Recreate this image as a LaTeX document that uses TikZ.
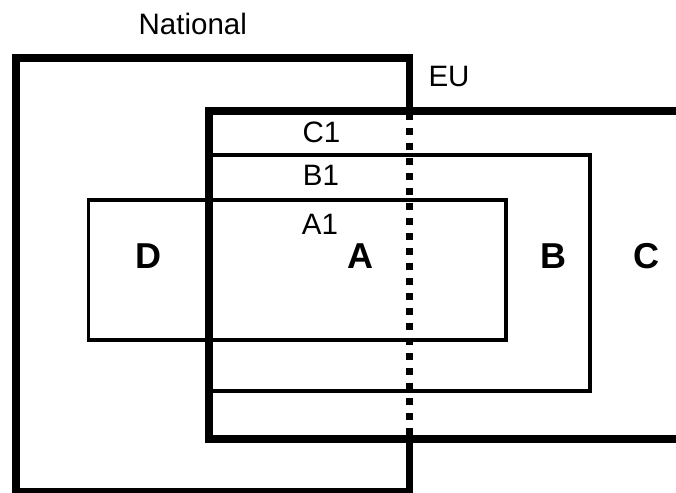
\documentclass[tikz,border=0pt]{standalone}
\usepackage{fontspec}
\setmainfont{Liberation Sans}
\begin{document}
\begin{tikzpicture}[x=1pt,y=-1pt,
  thickline/.style={line width=7.7pt,line join=miter,line cap=butt},
  thinline/.style={line width=3.6pt,line join=miter},
  dotline/.style={line width=7.7pt,line cap=butt,dash pattern=on 7pt off 8pt,dash phase=13pt},
  lbl/.style={inner sep=0pt,anchor=base,font=\fontsize{29.5}{30}\selectfont},
  big/.style={inner sep=0pt,anchor=base,font=\fontsize{36}{38}\selectfont\bfseries}]
\useasboundingbox (0,0) rectangle (676,492);
\clip (0,0) rectangle (676,492);
% B and A boxes
\draw[thinline] (208.8,155) rectangle (590,391);
\draw[thinline] (88.5,200) rectangle (506,340);
% C (EU) box, open on the right
\draw[thickline] (690,111.2) -- (208.8,111.2) -- (208.8,439.3) -- (690,439.3);
% National box
\draw[thickline] (409.5,111.2) -- (409.5,58.2) -- (16.2,58.2) -- (16.2,492) -- (409.5,492) -- (409.5,439.3);
% dotted border
\draw[dotline] (409.5,111.2) -- (409.5,439.3);
% labels
\node[lbl] (national) at (192.8,34.3) {National};
\node[lbl] (eu) at (449,86.7) {EU};
\node[lbl] (c1) at (321.5,142) {C1};
\node[lbl] (b1) at (321,185.7) {B1};
\node[lbl] (a1) at (320,234) {A1};
\node[big] (d) at (148,268.5) {D};
\node[big] (a) at (360,268.5) {A};
\node[big] (b) at (553,268.5) {B};
\node[big] (c) at (646,268.5) {C};
\end{tikzpicture}
\end{document}
